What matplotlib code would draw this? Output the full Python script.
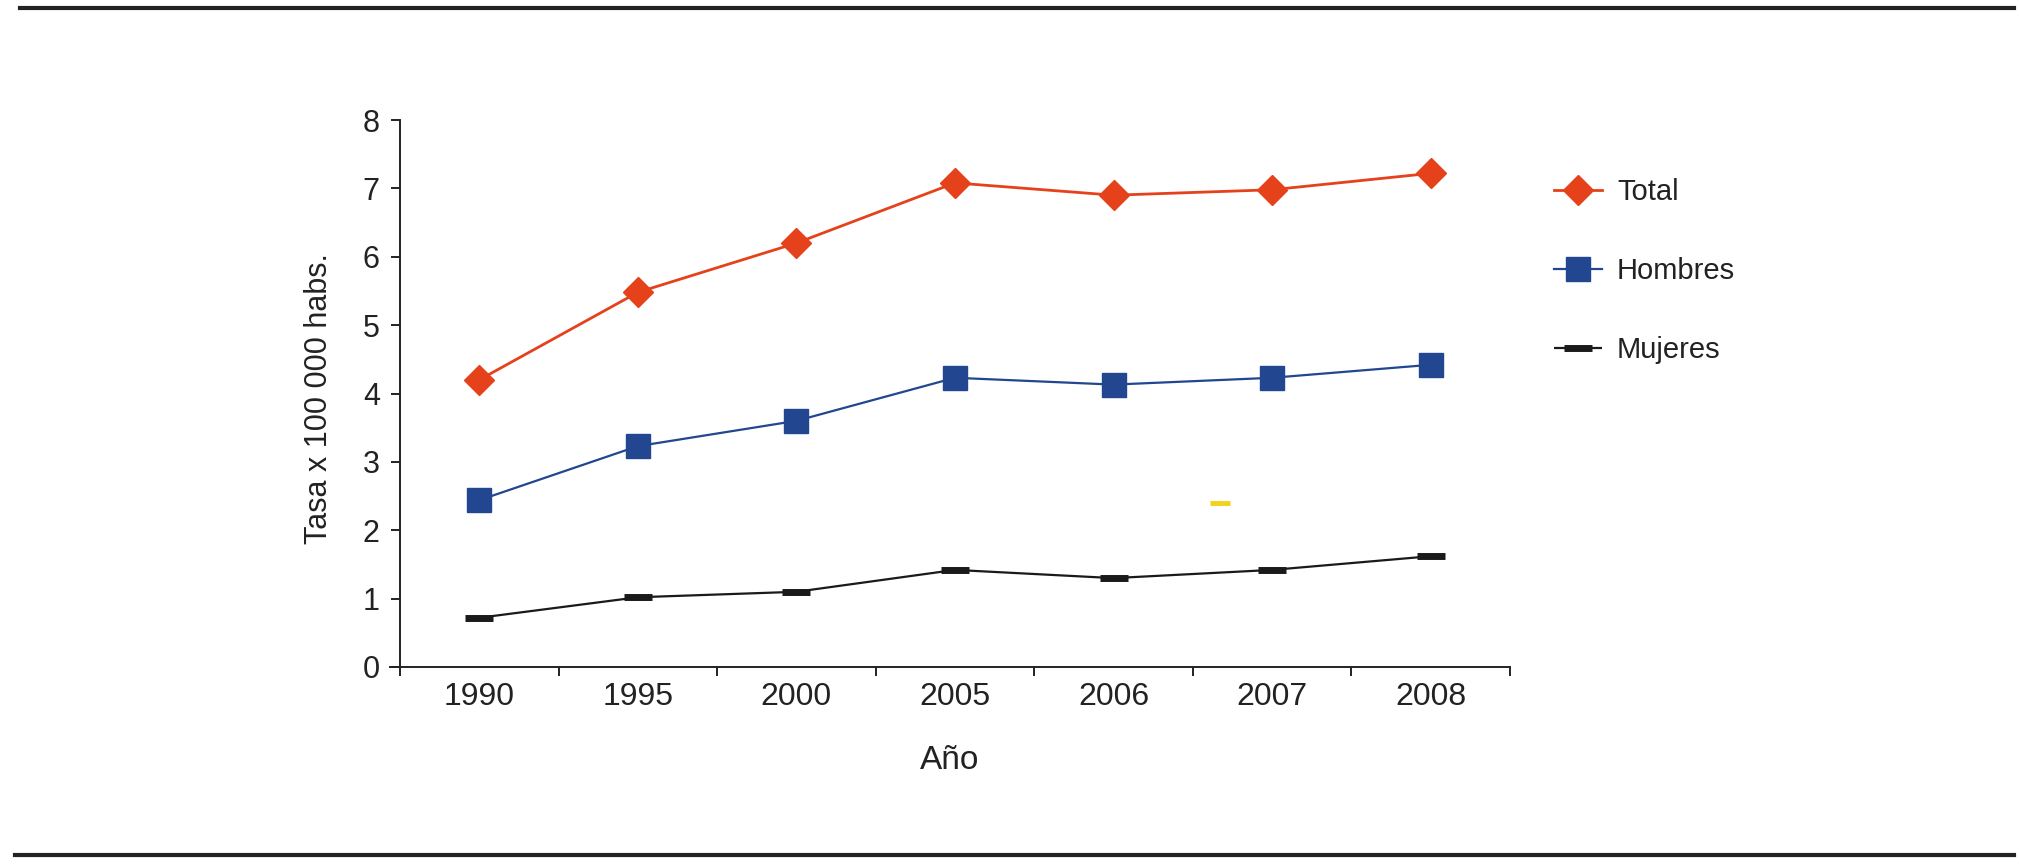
import numpy as np
import matplotlib
matplotlib.use('Agg')
import matplotlib.pyplot as plt
from matplotlib.lines import Line2D

# data
years = ['1990', '1995', '2000', '2005', '2006', '2007', '2008']
total = [4.2, 5.48, 6.2, 7.08, 6.9, 6.98, 7.22]
hombres = [2.44, 3.23, 3.6, 4.23, 4.13, 4.23, 4.42]
mujeres = [0.72, 1.02, 1.1, 1.42, 1.3, 1.42, 1.62]
# stray yellow dash in the original figure
stray_x = [4.67]
stray_y = [2.4]

plt.rcParams['font.family'] = ['Liberation Sans', 'DejaVu Sans']
txt = '#222222'

fig = plt.figure(figsize=(20.19, 8.65), dpi=100)
ax = fig.add_axes([390 / 2019, 1 - 667 / 865, 1120 / 2019, 547 / 865])

x = np.arange(len(years))
ax.plot(x, total, color='#E5411B', lw=2, marker='D', ms=15,
        mec='#E5411B', mfc='#E5411B', label='Total')
ax.plot(x, hombres, color='#22468F', lw=1.6, marker='s', ms=17,
        mec='#22468F', mfc='#22468F', label='Hombres')
ax.plot(x, mujeres, color='#1a1a1a', lw=1.6, marker='_', ms=20,
        mew=5, mec='#1a1a1a', label='Mujeres', solid_capstyle='butt')
ax.plot(stray_x, stray_y, ls='none', marker='_', ms=15, mew=3.5,
        mec='#F2D21A')

ax.set_xlim(-0.563, 6.5)
ax.set_ylim(0, 8)
ax.spines['top'].set_visible(False)
ax.spines['right'].set_visible(False)
ax.spines['left'].set_position(('data', -0.5))
for s in ['left', 'bottom']:
    ax.spines[s].set_linewidth(1.4)
    ax.spines[s].set_color(txt)

ax.set_yticks(np.arange(0, 9, 1))
ax.tick_params(axis='y', direction='out', length=6.5, width=1.4,
               labelsize=22, pad=8, colors=txt)
ax.set_xticks(np.arange(-0.5, 7, 1))
ax.set_xticklabels([])
ax.set_xticks(x, minor=True)
ax.set_xticklabels(years, minor=True)
ax.tick_params(axis='x', which='major', direction='out', length=6.5,
               width=1.4, colors=txt)
ax.tick_params(axis='x', which='minor', length=0, labelsize=23, pad=11,
               labelcolor=txt)

ax.set_ylabel('Tasa x 100 000 habs.', fontsize=22, color=txt)
ax.yaxis.set_label_coords(-0.05, 0.49)
ax.set_xlabel('Año', fontsize=24, color=txt)
ax.xaxis.set_label_coords(0.5, -0.143)

leg = ax.legend(loc='upper left', bbox_to_anchor=(1528 / 2019, 1 - 152 / 865),
                bbox_transform=fig.transFigure, frameon=False, fontsize=21,
                handlelength=1.65, handletextpad=0.5, labelspacing=1.75,
                labelcolor=txt)

# horizontal rules at top and bottom of the figure
fig.add_artist(Line2D([20 / 2019, 2014 / 2019], [1 - 8 / 865, 1 - 8 / 865],
                      color='#222222', lw=3, transform=fig.transFigure))
fig.add_artist(Line2D([15 / 2019, 2014 / 2019], [1 - 855 / 865, 1 - 855 / 865],
                      color='#222222', lw=3, transform=fig.transFigure))

fig.savefig('out.png', dpi=100)
